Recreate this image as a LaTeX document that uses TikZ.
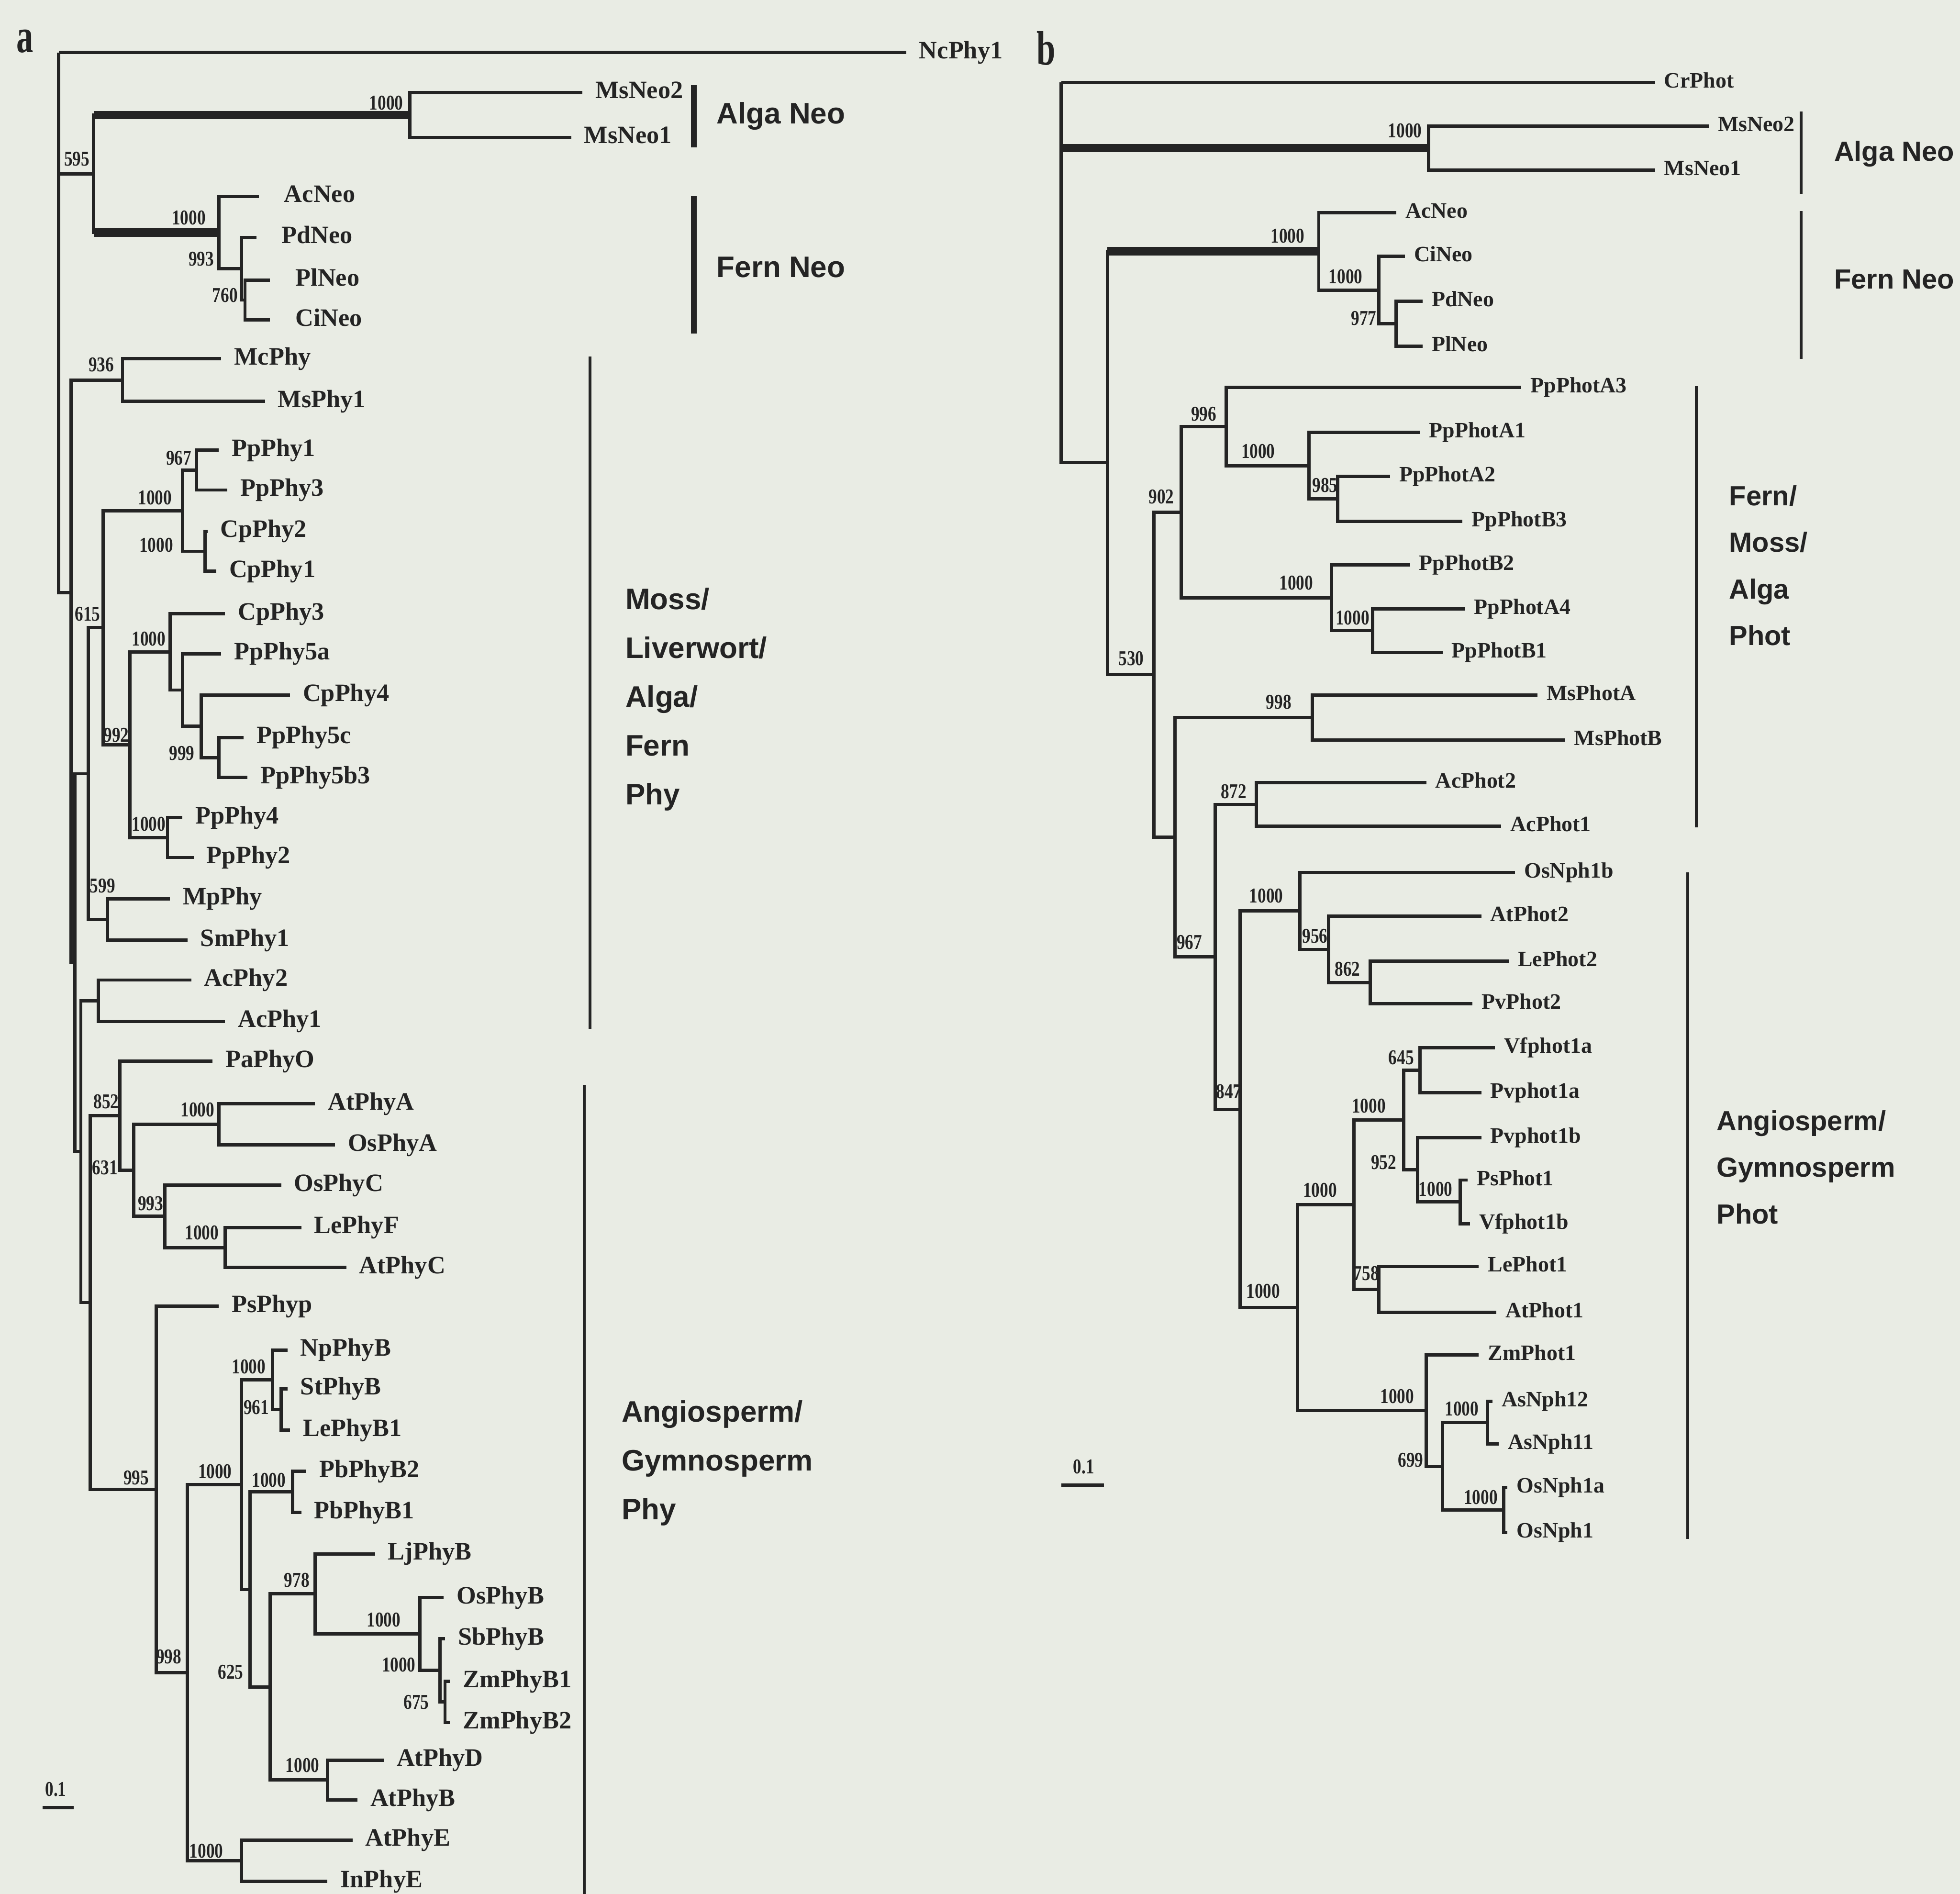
\documentclass[tikz,border=0pt]{standalone}
\usepackage{fontspec}
\setmainfont{Liberation Serif}
\newfontfamily\bsfont{Liberation Serif}[FakeStretch=0.8]
\newfontfamily\panelfont{Liberation Serif}[FakeStretch=0.7]
\newfontfamily\grpfont{Liberation Sans}
\usepackage{xcolor}
\definecolor{paper}{RGB}{233,236,228}
\definecolor{ink}{RGB}{36,36,36}

\begin{document}
\begin{tikzpicture}[x=2cm, y=-2cm,
  br/.style={draw=ink, line width=1.5pt},
  heavy/.style={draw=ink, line width=3.8pt},
  lfa/.style={font=\bfseries\fontsize{11.4}{12}\selectfont, text=ink, anchor=west, inner sep=0pt, text height=8pt, text depth=2.5pt, xshift=5.7pt},
  lfb/.style={font=\bfseries\fontsize{10}{11}\selectfont, text=ink, anchor=west, inner sep=0pt, text height=7pt, text depth=2.2pt, xshift=4pt},
  bs/.style={font=\bsfont\bfseries\fontsize{9.6}{10}\selectfont, text=ink, inner sep=0pt, text height=6.5pt, text depth=0pt},
  grpa/.style={font=\grpfont\bfseries\fontsize{13.5}{22.2}\selectfont, text=ink, align=left, inner sep=0pt, anchor=north west},
  grpb/.style={font=\grpfont\bfseries\fontsize{12.6}{21.2}\selectfont, text=ink, align=left, inner sep=0pt, anchor=north west},
  gbar/.style={draw=ink, line width=1.3pt},
  gbarthick/.style={draw=ink, line width=2.6pt},
  panel/.style={font=\panelfont\bfseries\fontsize{22}{22}\selectfont, text=ink, inner sep=0pt, anchor=base},
]
\useasboundingbox (0,0) rectangle (15.68,15.15);
\fill[paper] (0,0) rectangle (15.68,15.15);

% panel a
\node[panel] (pa) at (0.20,0.42) {a};
\foreach \n/\x/\y in {NcPhy1/7.25/0.42, MsNeo2/4.66/0.74, MsNeo1/4.57/1.10,
  McPhy/1.77/2.87, MsPhy1/2.12/3.21, PpPhy1/1.75/3.60, PpPhy3/1.82/3.92,
  CpPhy2/1.66/4.25, CpPhy1/1.73/4.57, CpPhy3/1.80/4.91, PpPhy5a/1.77/5.23,
  CpPhy4/2.32/5.56, PpPhy5c/1.95/5.90, PpPhy5b3/1.98/6.22, PpPhy4/1.46/6.54,
  PpPhy2/1.55/6.86, MpPhy/1.36/7.19, SmPhy1/1.50/7.52, AcPhy2/1.53/7.84,
  AcPhy1/1.80/8.17, PaPhyO/1.70/8.49, AtPhyA/2.52/8.83, OsPhyA/2.68/9.16,
  OsPhyC/2.25/9.48, LePhyF/2.41/9.82, AtPhyC/2.77/10.14, PsPhyp/1.75/10.45,
  NpPhyB/2.30/10.80, StPhyB/2.30/11.11, LePhyB1/2.32/11.44, PbPhyB2/2.45/11.77,
  PbPhyB1/2.41/12.10, LjPhyB/3.00/12.43, OsPhyB/3.55/12.78, SbPhyB/3.56/13.11,
  ZmPhyB1/3.60/13.45, ZmPhyB2/3.60/13.78, AtPhyD/3.07/14.08, AtPhyB/2.86/14.40,
  AtPhyE/2.82/14.72, InPhyE/2.62/15.05}
  {\coordinate (a\n) at (\x,\y);
   \node[lfa] (a\n-t) at (a\n) {\n};}
\foreach \n/\x/\y in {AcNeo/2.07/1.57, PdNeo/2.05/1.90, PlNeo/2.16/2.24, CiNeo/2.16/2.56}
  {\coordinate (a\n) at (\x,\y);
   \node[lfa, xshift=5.7pt] (a\n-t) at (a\n) {\n};}
\foreach \n/\x/\y in {aR/0.47/0.42, a595/0.75/1.39, aMs/3.28/0.92, aFern/1.75/1.86,
  a993/1.93/2.15, a760/1.96/2.40, aS1/0.57/4.74, a936/0.98/3.04, aS2/0.60/7.70,
  aX1/0.705/6.19, a615/0.825/5.02, aPp/1.46/4.085, a967/1.57/3.76, aCp/1.64/4.41,
  a992/1.04/5.9575, aCp3/1.36/5.215, aY/1.46/5.52, aZ/1.61/5.81, a999/1.75/6.06,
  aPp4/1.34/6.70, a599/0.86/7.355, aS3/0.647/9.2125, aAc/0.787/8.005, aS4/0.723/10.42,
  a852/0.96/8.926, a631/1.07/9.3625, aA/1.75/8.995, a993c/1.32/9.73, aC/1.80/9.98,
  a995/1.25/11.915, a998/1.50/13.38, aB/1.93/11.876, aNp/2.18/11.0375, a961/2.25/11.275,
  aX/2.00/12.715, aPb/2.34/11.935, a625/2.16/13.495, a978/2.52/12.75, aOs/3.36/13.07,
  aSb/3.52/13.3625, a675/3.56/13.615, aD/2.62/14.24, aE/1.93/14.885}
  \coordinate (\n) at (\x,\y);
\foreach \p/\c in {aR/aNcPhy1, aR/a595, aR/aS1, a595/aMs, a595/aFern,
  aMs/aMsNeo2, aMs/aMsNeo1, aFern/aAcNeo, aFern/a993, a993/aPdNeo, a993/a760,
  a760/aPlNeo, a760/aCiNeo, aS1/a936, aS1/aS2, a936/aMcPhy, a936/aMsPhy1,
  aS2/aX1, aS2/aS3, aX1/a615, aX1/a599, a615/aPp, a615/a992, aPp/a967, aPp/aCp,
  a967/aPpPhy1, a967/aPpPhy3, aCp/aCpPhy2, aCp/aCpPhy1, a992/aCp3, a992/aPp4,
  aCp3/aCpPhy3, aCp3/aY, aY/aPpPhy5a, aY/aZ, aZ/aCpPhy4, aZ/a999,
  a999/aPpPhy5c, a999/aPpPhy5b3, aPp4/aPpPhy4, aPp4/aPpPhy2, a599/aMpPhy, a599/aSmPhy1,
  aS3/aAc, aS3/aS4, aAc/aAcPhy2, aAc/aAcPhy1, aS4/a852, aS4/a995,
  a852/aPaPhyO, a852/a631, a631/aA, a631/a993c, aA/aAtPhyA, aA/aOsPhyA,
  a993c/aOsPhyC, a993c/aC, aC/aLePhyF, aC/aAtPhyC, a995/aPsPhyp, a995/a998,
  a998/aB, a998/aE, aB/aNp, aB/aX, aNp/aNpPhyB, aNp/a961, a961/aStPhyB, a961/aLePhyB1,
  aX/aPb, aX/a625, aPb/aPbPhyB2, aPb/aPbPhyB1, a625/a978, a625/aD,
  a978/aLjPhyB, a978/aOs, aOs/aOsPhyB, aOs/aSb, aSb/aSbPhyB, aSb/a675,
  a675/aZmPhyB1, a675/aZmPhyB2, aD/aAtPhyD, aD/aAtPhyB, aE/aAtPhyE, aE/aInPhyE}
  \draw[br] (\p) |- (\c);
\draw[heavy] (a595 |- aMs) -- (aMs);
\draw[heavy] (a595 |- aFern) -- (aFern);
\foreach \x/\y/\t [count=\i] in {0.615/1.27/595, 3.09/0.82/1000, 1.51/1.74/1000,
  1.61/2.07/993, 1.80/2.36/760, 0.81/2.915/936, 1.43/3.66/967, 1.24/3.98/1000,
  1.25/4.36/1000, 0.70/4.91/615, 1.19/5.11/1000, 0.93/5.88/992, 1.455/6.025/999,
  1.19/6.59/1000, 0.82/7.085/599, 0.85/8.81/852, 0.84/9.34/631, 1.58/8.875/1000,
  1.205/9.625/993, 1.615/9.86/1000, 1.09/11.82/995, 1.35/13.25/998, 1.72/11.77/1000,
  1.99/10.93/1000, 2.05/11.255/961, 2.15/11.84/1000, 1.845/13.375/625, 2.375/12.64/978,
  3.07/12.955/1000, 3.19/13.315/1000, 3.33/13.615/675, 2.42/14.12/1000, 1.65/14.805/1000}
  \node[bs] (bsa\i) at (\x,\y) {\t};
\draw[gbarthick] (5.55,0.68) -- (5.55,1.18);
\draw[gbarthick] (5.55,1.57) -- (5.55,2.67);
\draw[gbar] (4.72,2.85) -- (4.72,8.23);
\draw[gbar] (4.675,8.68) -- (4.675,15.15);
\node[grpa, anchor=base west] (aAlga) at (5.73,0.99) {Alga Neo};
\node[grpa, anchor=base west] (aFernN) at (5.73,2.22) {Fern Neo};
\node[grpa] (aMoss) at (5.00,4.70) {Moss/\\Liverwort/\\Alga/\\Fern\\Phy};
\node[grpa] (aAngio) at (4.97,11.20) {Angiosperm/\\Gymnosperm\\Phy};
\draw[br] (0.34,14.46) -- (0.59,14.46);
\node[bs] (aScale) at (0.446,14.31) {0.1};

% panel b
\node[panel] (pb) at (8.37,0.52) {b};
\foreach \n/\x/\y in {CrPhot/13.24/0.66, MsNeo2/13.67/1.01, MsNeo1/13.24/1.36,
  AcNeo/11.17/1.70, CiNeo/11.24/2.05, PdNeo/11.38/2.41, PlNeo/11.38/2.77,
  PpPhotA3/12.17/3.10, PpPhotA1/11.36/3.46, PpPhotA2/11.12/3.81, PpPhotB3/11.70/4.17,
  PpPhotB2/11.28/4.52, PpPhotA4/11.72/4.87, PpPhotB1/11.54/5.22, MsPhotA/12.30/5.56,
  MsPhotB/12.52/5.92, AcPhot2/11.41/6.26, AcPhot1/12.01/6.61, OsNph1b/12.12/6.98,
  AtPhot2/11.85/7.33, LePhot2/12.07/7.69, PvPhot2/11.78/8.03, Vfphot1a/11.96/8.38,
  Pvphot1a/11.85/8.74, Pvphot1b/11.85/9.10, PsPhot1/11.74/9.44, Vfphot1b/11.76/9.79,
  LePhot1/11.83/10.13, AtPhot1/11.97/10.50, ZmPhot1/11.83/10.84, AsNph12/11.94/11.21,
  AsNph11/11.99/11.55, OsNph1a/12.06/11.90, OsNph1/12.06/12.26}
  {\coordinate (b\n) at (\x,\y);
   \node[lfb] (b\n-t) at (b\n) {\n};}
\foreach \n/\x/\y in {bR/8.49/0.66, bMs/11.43/1.185, bN1/8.86/3.70, bFern/10.55/2.01,
  bCi/11.03/2.32, b977/11.17/2.59, b530/9.23/5.397, b902/9.45/4.0975, b996/9.81/3.4125,
  bA1/10.47/3.725, b985/10.70/3.99, bB2/10.65/4.7825, bA4/10.98/5.045, b967/9.40/6.697,
  b998/10.50/5.74, b972/9.72/7.6545, b872/10.05/6.435, b847/9.92/8.874, bNph/10.40/7.2875,
  b956/10.63/7.595, b862/10.96/7.86, bZ/10.38/10.461, bY/10.83/9.637, bV/11.23/8.959,
  b645/11.36/8.56, b952/11.34/9.3575, bPs/11.68/9.615, b758/11.03/10.315,
  bZm/11.41/11.285, b699/11.54/11.73, bAs/11.90/11.38, bOs/12.03/12.08}
  \coordinate (\n) at (\x,\y);
\foreach \p/\c in {bR/bCrPhot, bR/bMs, bR/bN1, bMs/bMsNeo2, bMs/bMsNeo1,
  bN1/bFern, bN1/b530, bFern/bAcNeo, bFern/bCi, bCi/bCiNeo, bCi/b977,
  b977/bPdNeo, b977/bPlNeo, b530/b902, b530/b967, b902/b996, b902/bB2,
  b996/bPpPhotA3, b996/bA1, bA1/bPpPhotA1, bA1/b985, b985/bPpPhotA2, b985/bPpPhotB3,
  bB2/bPpPhotB2, bB2/bA4, bA4/bPpPhotA4, bA4/bPpPhotB1, b967/b998, b967/b972,
  b998/bMsPhotA, b998/bMsPhotB, b972/b872, b972/b847, b872/bAcPhot2, b872/bAcPhot1,
  b847/bNph, b847/bZ, bNph/bOsNph1b, bNph/b956, b956/bAtPhot2, b956/b862,
  b862/bLePhot2, b862/bPvPhot2, bZ/bY, bZ/bZm, bY/bV, bY/b758, bV/b645, bV/b952,
  b645/bVfphot1a, b645/bPvphot1a, b952/bPvphot1b, b952/bPs, bPs/bPsPhot1, bPs/bVfphot1b,
  b758/bLePhot1, b758/bAtPhot1, bZm/bZmPhot1, bZm/b699, b699/bAs, b699/bOs,
  bAs/bAsNph12, bAs/bAsNph11, bOs/bOsNph1a, bOs/bOsNph1}
  \draw[br] (\p) |- (\c);
\draw[heavy] (bR |- bMs) -- (bMs);
\draw[heavy] (bN1 |- bFern) -- (bFern);
\foreach \x/\y/\t [count=\i] in {11.24/1.045/1000, 10.30/1.885/1000, 10.765/2.21/1000,
  10.91/2.545/977, 9.63/3.31/996, 10.065/3.61/1000, 10.60/3.88/985, 9.29/3.97/902,
  10.37/4.66/1000, 10.82/4.94/1000, 9.05/5.264/530, 10.23/5.615/998, 9.87/6.33/872,
  9.515/7.534/967, 10.13/7.165/1000, 10.52/7.487/956, 10.78/7.75/862, 9.83/8.73/847,
  11.21/8.46/645, 10.95/8.845/1000, 11.07/9.297/952, 10.56/9.517/1000, 11.485/9.51/1000,
  10.93/10.185/758, 10.105/10.328/1000, 11.177/11.17/1000, 11.694/11.267/1000,
  11.285/11.677/699, 11.846/11.978/1000}
  \node[bs] (bsb\i) at (\x,\y) {\t};
\draw[gbar] (14.41,0.89) -- (14.41,1.55);
\draw[gbar] (14.41,1.69) -- (14.41,2.87);
\draw[gbar] (13.57,3.09) -- (13.57,6.62);
\draw[gbar] (13.50,6.98) -- (13.50,12.31);
\node[grpb, anchor=base west] (bAlga) at (14.67,1.29) {Alga Neo};
\node[grpb, anchor=base west] (bFernN) at (14.67,2.31) {Fern Neo};
\node[grpb] (bFernMoss) at (13.83,3.88) {Fern/\\Moss/\\Alga\\Phot};
\node[grpb] (bAngio) at (13.73,8.88) {Angiosperm/\\Gymnosperm\\Phot};
\draw[br] (8.49,11.88) -- (8.83,11.88);
\node[bs] (bScale) at (8.67,11.73) {0.1};
\end{tikzpicture}
\end{document}
